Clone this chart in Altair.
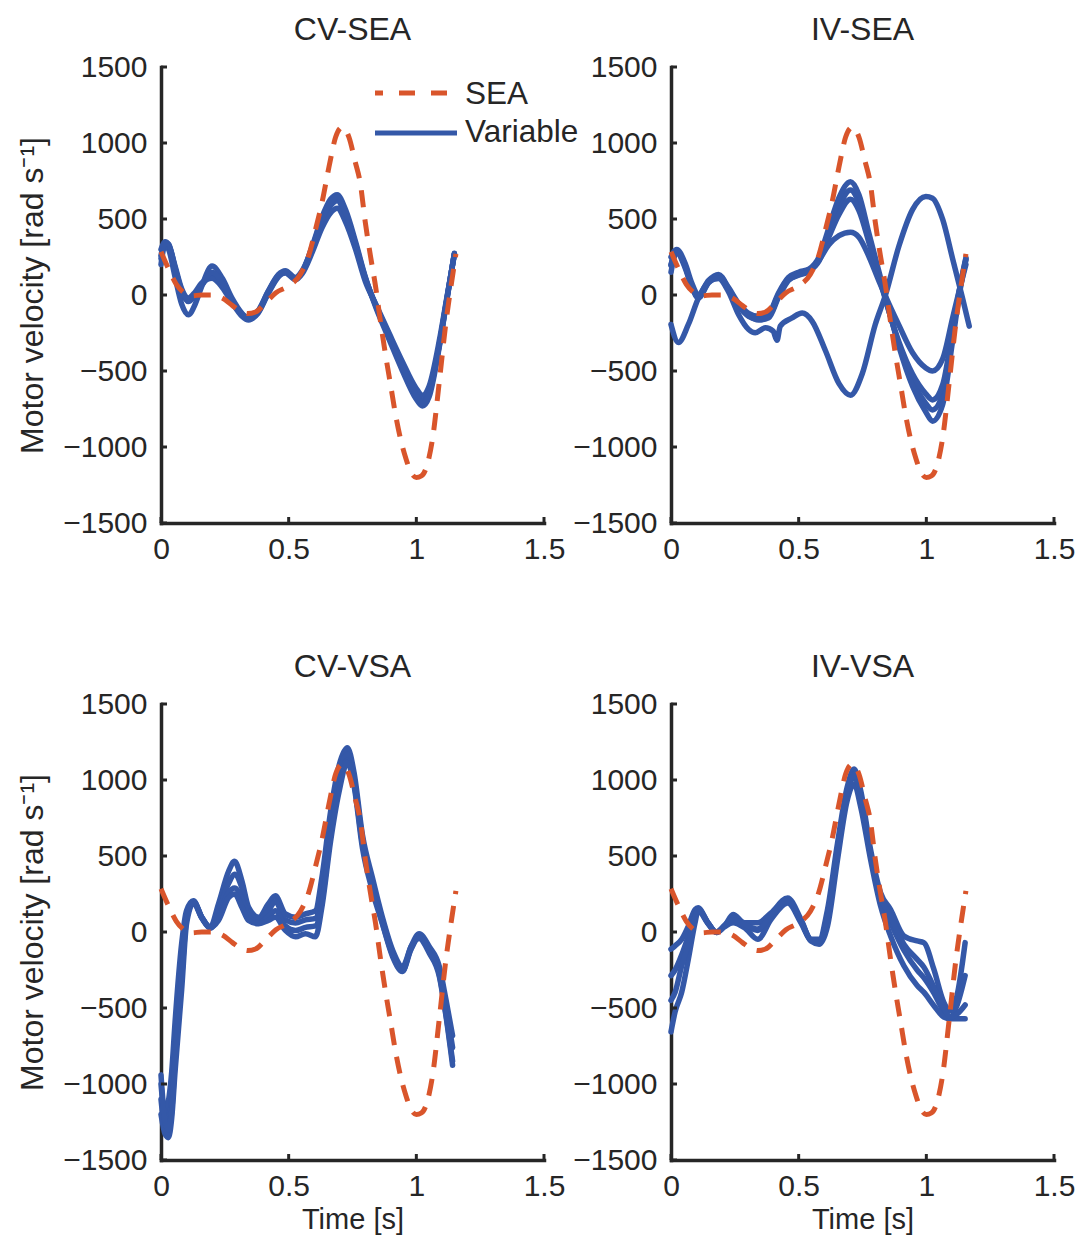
import altair as alt
import pandas as pd

# ------------------------------------------------------------------ data
X_TICKS = [0, 0.5, 1, 1.5]
Y_TICKS = [-1500, -1000, -500, 0, 500, 1000, 1500]

# SEA reference trajectory (same in every panel)
SEA_T = [0, 0.03, 0.06, 0.09, 0.12, 0.16, 0.2, 0.24, 0.28, 0.31, 0.34, 0.37, 0.41, 0.45,
         0.5, 0.546, 0.578, 0.605, 0.63, 0.658, 0.684, 0.71, 0.736, 0.76, 0.78, 0.80, 0.82,
         0.84, 0.86, 0.88, 0.90, 0.92, 0.94, 0.96, 0.98, 1.0, 1.02, 1.04, 1.064, 1.09,
         1.116, 1.136, 1.155]
SEA_V = [285, 170, 70, 15, -5, 0, 0, -20, -70, -105, -122, -112, -50, 15,
         60, 137, 257, 430, 604, 843, 1039, 1104, 1039, 880, 740, 480, 260,
         60, -180, -400, -600, -800, -960, -1080, -1170, -1200, -1190, -1130, -940, -570,
         -180, 60, 270]

# CV-SEA trials
CV_SEA_T = [0, 0.016, 0.03, 0.055, 0.081, 0.107, 0.134, 0.16, 0.2, 0.24, 0.278, 0.317,
            0.343, 0.38, 0.42, 0.46, 0.487, 0.527, 0.553, 0.592, 0.63, 0.664, 0.69, 0.723,
            0.762, 0.80, 0.841, 0.893, 0.946, 0.998, 1.024, 1.05, 1.09, 1.116, 1.149]
CV_SEA_1 = [260, 337, 326, 174, 22, -43, 0, 65, 130, 65, -43, -130, -152, -109, 22, 130,
            152, 109, 152, 304, 478, 587, 620, 522, 326, 109, -65, -261, -456, -630, -696,
            -630, -326, -65, 272]
CV_SEA_2 = [200, 330, 300, 120, -60, -130, -60, 60, 190, 110, -20, -120, -160, -120, 10,
            120, 150, 110, 150, 320, 510, 630, 660, 560, 350, 120, -80, -290, -500, -680,
            -730, -670, -340, -70, 275]
CV_SEA_3 = [300, 350, 330, 190, 40, -20, 20, 80, 110, 50, -50, -140, -165, -115, 15, 125,
            145, 100, 140, 280, 440, 540, 570, 480, 300, 90, -60, -250, -440, -610, -660,
            -600, -300, -50, 268]
CV_SEA_4 = [240, 345, 335, 180, 30, -30, 10, 70, 150, 80, -35, -125, -150, -105, 25, 135,
            160, 115, 160, 310, 495, 610, 645, 540, 335, 115, -70, -275, -475, -655, -715,
            -650, -330, -60, 270]

# IV-SEA trials
IV_SEA_T = [0, 0.022, 0.055, 0.081, 0.107, 0.147, 0.186, 0.225, 0.265, 0.304, 0.343, 0.383,
            0.42, 0.46, 0.5, 0.54, 0.58, 0.618, 0.658, 0.703, 0.736, 0.776, 0.815, 0.854,
            0.893, 0.946, 0.998, 1.024, 1.064, 1.103, 1.129, 1.155]
IV_SEA_1 = [194, 292, 194, 65, -11, 86, 130, 43, -65, -130, -151, -130, 0, 108, 140, 162,
            238, 410, 583, 691, 605, 367, 130, -108, -324, -562, -713, -756, -648, -259, 22, 238]
IV_SEA_2 = [250, 300, 210, 80, 0, 95, 135, 50, -55, -120, -140, -120, 10, 115, 150, 170,
            250, 440, 640, 745, 660, 400, 150, -100, -340, -600, -770, -830, -720, -300, 0, 230]
IV_SEA_3 = [150, 280, 180, 55, -20, 80, 120, 35, -75, -140, -160, -140, -10, 100, 130, 155,
            225, 380, 530, 630, 555, 340, 115, -110, -310, -520, -650, -690, -590, -230, 30, 245]
IV_SEA_4 = [200, 290, 190, 60, -10, 85, 128, 40, -68, -135, -165, -150, -20, 95, 135, 160,
            230, 330, 390, 413, 380, 250, 90, -60, -200, -380, -480, -500, -420, -150, 30, 200]
IV_SEA_5_T = [0, 0.029, 0.068, 0.107, 0.147, 0.186, 0.225, 0.265, 0.304, 0.33, 0.37, 0.40,
              0.415, 0.428, 0.474, 0.514, 0.553, 0.605, 0.658, 0.703, 0.749, 0.80, 0.84,
              0.893, 0.946, 0.998, 1.024, 1.064, 1.103, 1.142, 1.168]
IV_SEA_5 = [-194, -313, -194, -22, 86, 108, 22, -130, -227, -248, -216, -238, -298, -205,
            -151, -119, -173, -367, -583, -659, -518, -194, 0, 324, 562, 648, 637, 497, 238,
            -22, -205]

# CV-VSA trials
CV_VSA_T = [0, 0.016, 0.029, 0.042, 0.055, 0.081, 0.1, 0.127, 0.16, 0.193, 0.225, 0.265,
            0.288, 0.317, 0.343, 0.383, 0.42, 0.448, 0.487, 0.527, 0.566, 0.605, 0.63, 0.664,
            0.697, 0.73, 0.756, 0.789, 0.828, 0.867, 0.907, 0.946, 0.979, 1.011, 1.051, 1.09,
            1.116, 1.142]
CV_VSA_1 = [-940, -1200, -1115, -920, -595, -75, 140, 205, 97, 32, 184, 400, 465, 335, 162,
            97, 184, 238, 119, 97, 119, 140, 357, 790, 1093, 1212, 1050, 638, 357, 97, -119,
            -227, -97, -11, -97, -227, -444, -682]
CV_VSA_2 = [-1100, -1280, -1250, -1100, -800, -250, 100, 200, 95, 30, 140, 320, 380, 290,
            130, 80, 140, 200, 80, 60, 80, 90, 290, 720, 1040, 1170, 1010, 610, 330, 80, -135,
            -240, -110, -25, -115, -250, -490, -760]
CV_VSA_3 = [-1200, -1330, -1353, -1223, -920, -379, 54, 190, 90, 25, 100, 260, 290, 220, 100,
            60, 100, 140, 40, 10, 30, 40, 200, 640, 980, 1130, 980, 580, 300, 60, -150, -255,
            -115, -35, -130, -280, -540, -850]
CV_VSA_4 = [-1000, -1250, -1300, -1180, -850, -300, 80, 200, 95, 30, 76, 227, 250, 162, 76,
            54, 76, 97, 11, -32, -11, -32, 162, 595, 920, 1115, 963, 552, 270, 54, -162, -260,
            -97, -43, -140, -292, -552, -877]

# IV-VSA trials
IV_VSA_T = [0, 0.016, 0.042, 0.068, 0.094, 0.106, 0.145, 0.178, 0.21, 0.243, 0.288, 0.34,
            0.392, 0.457, 0.509, 0.548, 0.58, 0.613, 0.652, 0.69, 0.717, 0.743, 0.782, 0.821,
            0.86, 0.912, 0.964, 0.99, 1.029, 1.068, 1.094, 1.12, 1.152]
IV_VSA_1 = [-113, -91, -48, 39, 148, 159, 61, -4, 39, 115, 61, 61, 126, 224, 83, -48, -48,
            148, 583, 952, 1072, 930, 539, 257, 148, -26, -59, -70, -243, -461, -520, -420, -70]
IV_VSA_2 = [-287, -250, -150, -26, 104, 150, 60, 0, 45, 90, 45, 10, 100, 205, 70, -55, -70,
            90, 520, 900, 1030, 880, 500, 210, 60, -120, -250, -300, -400, -520, -559, -483, -287]
IV_VSA_3 = [-657, -526, -396, -178, 60, 140, 55, -4, 35, 61, 28, -48, 83, 191, 60, -60, -80,
            39, 474, 865, 974, 822, 474, 170, -26, -222, -352, -396, -483, -559, -570, -570, -570]
IV_VSA_4 = [-450, -396, -222, -80, 90, 150, 58, 0, 40, 80, 50, 20, 110, 210, 75, -50, -60,
            100, 540, 920, 1040, 900, 510, 230, 100, -80, -180, -230, -360, -500, -560, -540, -480]

LEGEND_LABELS = ["SEA", "Variable"]
Y_TITLE = "Motor velocity [rad s\u207b\u00b9]"
X_TITLE = "Time [s]"

# ------------------------------------------------------------------ style
FONT = "Liberation Sans"
TXT = "#262626"
AXC = "#262626"
BLUE = "#3458A8"
RED = "#D9552B"
W, H = 383, 456


def runs_frame(runs):
    rows = []
    for i, (ts, vs) in enumerate(runs):
        for t, v in zip(ts, vs):
            rows.append({"t": t, "v": v, "run": i})
    return pd.DataFrame(rows)


def panel(title, runs, left, bottom, legend=False):
    xaxis = alt.Axis(values=X_TICKS, format="~g", ticks=False, tickSize=0, grid=False,
                     domainColor=AXC, domainWidth=3.5, domainCap="square",
                     labelFont=FONT, labelFontSize=30, labelColor=TXT, labelPadding=11,
                     labelFlush=False, labelOverlap=False, labelBound=False,
                     title=X_TITLE if bottom else None,
                     titleFont=FONT, titleFontSize=29, titleFontWeight="normal",
                     titleColor=TXT, titleBaseline="alphabetic", titleY=68,
                     titleX=W / 2, titleAlign="center")
    yaxis = alt.Axis(values=Y_TICKS, format="d", ticks=False, tickSize=0, grid=False,
                     domainColor=AXC, domainWidth=3.5, domainCap="square",
                     labelFont=FONT, labelFontSize=30, labelColor=TXT, labelPadding=14,
                     labelFlush=False, labelOverlap=False, labelBound=False,
                     title=Y_TITLE if left else None,
                     titleFont=FONT, titleFontSize=32, titleFontWeight="normal",
                     titleColor=TXT, titleBaseline="alphabetic", titleAngle=270,
                     titleX=-119, titleY=H / 2, titleAlign="center")
    x = alt.X("t:Q", scale=alt.Scale(domain=[0, 1.5], nice=False, zero=False), axis=xaxis)
    y = alt.Y("v:Q", scale=alt.Scale(domain=[-1500, 1500], nice=False, zero=False), axis=yaxis)

    blue = alt.Chart(runs_frame(runs)).mark_line(
        color=BLUE, strokeWidth=5.5, interpolate="monotone", strokeJoin="round", strokeCap="round"
    ).encode(x=x, y=y, detail="run:N")
    sea = alt.Chart(pd.DataFrame({"t": SEA_T, "v": SEA_V})).mark_line(
        color=RED, strokeWidth=5, strokeDash=[17, 12], interpolate="monotone"
    ).encode(x=x, y=y)
    yt = alt.Chart(pd.DataFrame({"v": Y_TICKS})).mark_rule(color=AXC, strokeWidth=3).encode(
        y=y, x=alt.value(0), x2=alt.value(6))
    xt = alt.Chart(pd.DataFrame({"t": X_TICKS})).mark_rule(color=AXC, strokeWidth=3).encode(
        x=x, y=alt.value(H), y2=alt.value(H - 6))
    layers = [blue, sea, yt, xt]
    if legend:
        one = pd.DataFrame({"k": [0]})
        layers += [
            alt.Chart(one).mark_rule(color=RED, strokeWidth=5, strokeDash=[16, 16],
                                     strokeDashOffset=8).encode(
                x=alt.value(214), x2=alt.value(296), y=alt.value(26)),
            alt.Chart(one).mark_rule(color=BLUE, strokeWidth=5).encode(
                x=alt.value(214), x2=alt.value(296), y=alt.value(66)),
            alt.Chart(pd.DataFrame({"lab": [LEGEND_LABELS[0]]})).mark_text(
                align="left", baseline="alphabetic", font=FONT, fontSize=31.5, color=TXT).encode(
                x=alt.value(304), y=alt.value(36.5), text="lab:N"),
            alt.Chart(pd.DataFrame({"lab": [LEGEND_LABELS[1]]})).mark_text(
                align="left", baseline="alphabetic", font=FONT, fontSize=31.5, color=TXT).encode(
                x=alt.value(304), y=alt.value(75), text="lab:N"),
        ]
    return alt.layer(*layers).properties(
        width=W, height=H,
        title=alt.TitleParams(title, font=FONT, fontSize=32, fontWeight="normal", color=TXT,
                              anchor="middle", baseline="alphabetic", offset=-20))


p1 = panel("CV-SEA", [(CV_SEA_T, CV_SEA_1), (CV_SEA_T, CV_SEA_2), (CV_SEA_T, CV_SEA_3),
                      (CV_SEA_T, CV_SEA_4)], True, False, legend=True)
p2 = panel("IV-SEA", [(IV_SEA_T, IV_SEA_1), (IV_SEA_T, IV_SEA_2), (IV_SEA_T, IV_SEA_3),
                      (IV_SEA_T, IV_SEA_4), (IV_SEA_5_T, IV_SEA_5)], False, False)
p3 = panel("CV-VSA", [(CV_VSA_T, CV_VSA_1), (CV_VSA_T, CV_VSA_2), (CV_VSA_T, CV_VSA_3),
                      (CV_VSA_T, CV_VSA_4)], True, True)
p4 = panel("IV-VSA", [(IV_VSA_T, IV_VSA_1), (IV_VSA_T, IV_VSA_2), (IV_VSA_T, IV_VSA_3),
                      (IV_VSA_T, IV_VSA_4)], False, True)

chart = alt.concat(p1, p2, p3, p4, columns=2, bounds="flush",
                   spacing={"row": 181, "column": 127}).properties(
    padding={"left": 16, "top": 14, "right": 5, "bottom": 5},
    background="white",
).configure_view(stroke=None)

chart.save("out.html", embed_options={"renderer": "svg", "actions": False})
